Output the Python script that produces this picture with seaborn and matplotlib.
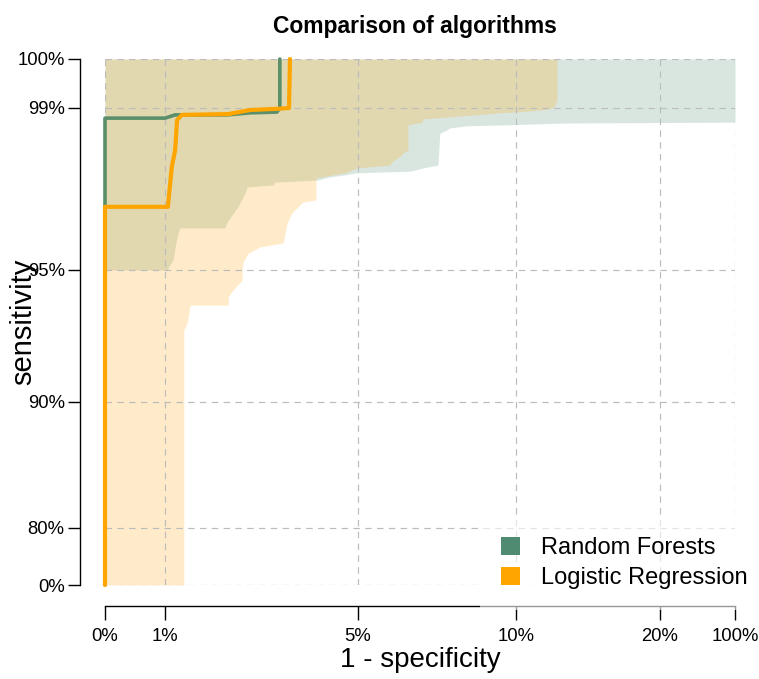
import numpy as np
import pandas as pd
import matplotlib
matplotlib.use("Agg")
import matplotlib.pyplot as plt
import seaborn as sns
from matplotlib.patches import Patch

# ---------------- data ----------------
x_ticks = [0.0, 0.01, 0.05, 0.10, 0.20, 1.0]
x_tick_labels = ["0%", "1%", "5%", "10%", "20%", "100%"]
y_ticks = [0.0, 0.80, 0.90, 0.95, 0.99, 1.0]
y_tick_labels = ["0%", "80%", "90%", "95%", "99%", "100%"]

series_names = ["Random Forests", "Logistic Regression"]

# ROC curves (1 - specificity, sensitivity)
rf_fpr = [0.0, 0.0, 0.0100, 0.0121, 0.0229, 0.0276, 0.0332, 0.0338, 0.0338]
rf_tpr = [0.0, 0.9875, 0.9875, 0.9883, 0.9883, 0.9888, 0.9890, 0.9900, 1.0]

lr_fpr = [0.0, 0.0, 0.0106, 0.0114, 0.0121, 0.0125, 0.0135, 0.0231, 0.0276, 0.0332, 0.0357, 0.0359]
lr_tpr = [0.0, 0.9656, 0.9656, 0.9754, 0.9796, 0.9870, 0.9883, 0.9885, 0.9895, 0.9898, 0.9900, 1.0]

# confidence bands of sensitivity (upper bound is 100% for both)
rf_ci_fpr = [0.0, 0.0104, 0.0110, 0.0117, 0.0121, 0.0127, 0.0131, 0.0224, 0.0229, 0.0251,
             0.0266, 0.0270, 0.0324, 0.0328, 0.0415, 0.0442, 0.0473, 0.0498, 0.0665, 0.0706,
             0.0753, 0.0759, 0.0782, 0.0791, 0.0845, 0.0949, 0.1354, 1.0]
rf_ci_lower = [0.9500, 0.9500, 0.9512, 0.9525, 0.9557, 0.9591, 0.9604, 0.9604, 0.9619, 0.9656,
               0.9690, 0.9705, 0.9710, 0.9717, 0.9722, 0.9730, 0.9735, 0.9740, 0.9744, 0.9752,
               0.9759, 0.9838, 0.9846, 0.9851, 0.9856, 0.9858, 0.9863, 0.9865]

lr_ci_fpr = [0.0, 0.0139, 0.0139, 0.0146, 0.0152, 0.0231, 0.0231, 0.0241, 0.0260, 0.0260,
             0.0262, 0.0273, 0.0297, 0.0345, 0.0353, 0.0363, 0.0386, 0.0413, 0.0413, 0.0473,
             0.0498, 0.0601, 0.0607, 0.0639, 0.0642, 0.0658, 0.0658, 0.0703, 0.0706, 0.0949,
             0.1001, 0.1208, 0.1264, 0.1285]
lr_ci_lower = [0.0, 0.0, 0.9273, 0.9299, 0.9367, 0.9367, 0.9398, 0.9424, 0.9462, 0.9500,
               0.9520, 0.9542, 0.9557, 0.9567, 0.9616, 0.9641, 0.9668, 0.9673, 0.9727, 0.9740,
               0.9752, 0.9759, 0.9767, 0.9784, 0.9789, 0.9796, 0.9858, 0.9865, 0.9873, 0.9888,
               0.9890, 0.9896, 0.9902, 0.9916]

# ---------------- style ----------------
rf_color = "#4E8B71"
rf_line_color = "#5A8F69"
lr_color = "#FFA500"

sns.set_style("white")
plt.rcParams["font.family"] = ["Liberation Sans", "DejaVu Sans"]
plt.rcParams["text.color"] = "black"
plt.rcParams["axes.labelcolor"] = "black"
plt.rcParams["xtick.color"] = "black"
plt.rcParams["ytick.color"] = "black"

W, H = 759, 679
fig = plt.figure(figsize=(W / 100, H / 100), dpi=100)
ax = fig.add_axes([105 / W, (H - 585) / H, 630 / W, 526 / H])

# nonlinear scales defined by tick positions (in pixel units along the axis)
x_pos = [0, 60, 253, 411, 555, 630]
y_pos = [0, 57, 183, 315, 477, 526]


def make_scale(ticks, pos):
    t = np.asarray(ticks, float)
    p = np.asarray(pos, float)
    return (lambda v: np.interp(v, t, p), lambda q: np.interp(q, p, t))


ax.set_xscale("function", functions=make_scale(x_ticks, x_pos))
ax.set_yscale("function", functions=make_scale(y_ticks, y_pos))
ax.set_xlim(0, 1)
ax.set_ylim(0, 1)

# confidence bands
ax.fill_between(rf_ci_fpr, rf_ci_lower, 1.0, color=rf_color, alpha=0.21, lw=0, zorder=1)
ax.fill_between(lr_ci_fpr, lr_ci_lower, 1.0, color=lr_color, alpha=0.21, lw=0, zorder=1.1)

# grid
ax.set_axisbelow(False)
ax.grid(True, color="#bcbcbc", linestyle=(0, (5.5, 4.5)), linewidth=0.85, zorder=2)

# ROC curves
rf_df = pd.DataFrame({"fpr": rf_fpr, "tpr": rf_tpr})
lr_df = pd.DataFrame({"fpr": lr_fpr, "tpr": lr_tpr})
sns.lineplot(data=rf_df, x="fpr", y="tpr", sort=False, estimator=None, ax=ax,
             color=rf_line_color, lw=2.6, zorder=3, clip_on=False)
sns.lineplot(data=lr_df, x="fpr", y="tpr", sort=False, estimator=None, ax=ax,
             color=lr_color, lw=3.0, zorder=3.1, clip_on=False)

# ticks & spines
ax.set_xticks(x_ticks)
ax.set_xticklabels(x_tick_labels)
ax.set_yticks(y_ticks)
ax.set_yticklabels(y_tick_labels)
ax.minorticks_off()
for s in ["top", "right"]:
    ax.spines[s].set_visible(False)
ax.spines["left"].set_position(("outward", 18))
ax.spines["bottom"].set_position(("outward", 15))
for s in ["left", "bottom"]:
    ax.spines[s].set_color("black")
    ax.spines[s].set_linewidth(1.0)
ax.tick_params(axis="y", direction="out", length=9, width=1, color="black",
               labelsize=13.3, labelcolor="black", pad=2, left=True)
ax.tick_params(axis="x", direction="out", length=10, width=1, color="black",
               labelsize=13.3, labelcolor="black", pad=6, bottom=True)

ax.set_xlabel("1 - specificity", fontsize=20, color="black")
ax.set_ylabel("sensitivity", fontsize=21, color="black")
ax.xaxis.set_label_coords(0.5, -0.118)
ax.yaxis.set_label_coords(-0.108, 0.5)
ax.set_title("Comparison of algorithms", fontsize=16.5, fontweight="bold",
             pad=19, x=0.492, color="black")

handles = [Patch(facecolor=rf_color, edgecolor="none"),
           Patch(facecolor=lr_color, edgecolor="none")]
leg = ax.legend(handles, series_names, loc="lower left",
                bbox_to_anchor=(480 / W, (H - 610) / H), bbox_transform=fig.transFigure,
                frameon=True, fancybox=False, framealpha=0.6, edgecolor="none",
                facecolor="white", fontsize=17, handlelength=0.8, handleheight=0.8,
                handletextpad=0.9, borderpad=0.9, labelspacing=0.3, borderaxespad=0)
for t in leg.get_texts():
    t.set_color("black")
leg.set_zorder(10)

fig.savefig("out.png", dpi=100)
